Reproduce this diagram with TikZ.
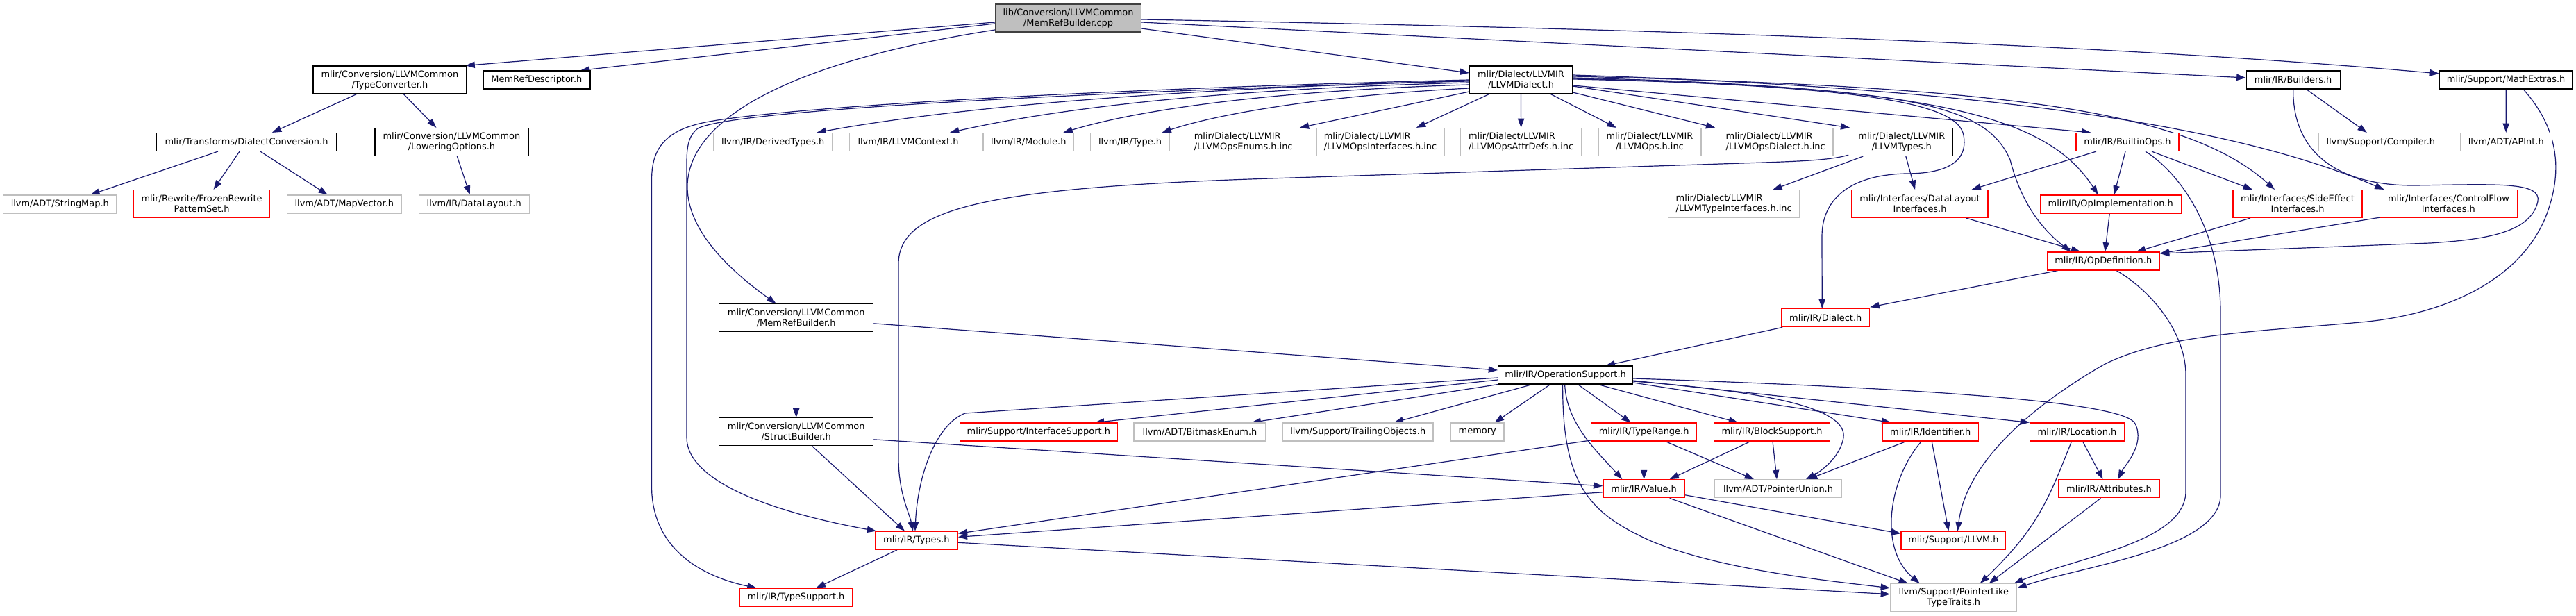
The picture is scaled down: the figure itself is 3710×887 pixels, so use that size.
\documentclass[tikz,border=0pt]{standalone}
\usepackage{fontspec}
\setmainfont{DejaVu Sans}
\usetikzlibrary{arrows.meta}
\usetikzlibrary{calc}
\usetikzlibrary{backgrounds}
\definecolor{edgeblue}{HTML}{191970}
\definecolor{docgray}{HTML}{404040}
\definecolor{extgray}{HTML}{BFBFBF}
\tikzset{>=latex}
\tikzstyle{box} = [draw, rectangle, line width=0.9pt, fill=white, inner sep=1pt,
                   font=\fontsize{9.7}{11.25}\selectfont, text=black]
\tikzstyle{doc}   = [box, draw=black]
\tikzstyle{ext}   = [box, draw=extgray]
\tikzstyle{trunc} = [box, draw=red]
\tikzstyle{root}  = [box, draw=docgray, fill=extgray]
\tikzstyle{oneline} = [minimum height=19.5pt]
\tikzstyle{twoline} = [minimum height=30pt, align=center]
\tikzset{bw/.style={minimum width=#1*0.75pt}}
\tikzstyle{dep} = [line width=0.9pt, draw=edgeblue,
                   -{Triangle[length=10pt,width=7pt]}]

\begin{document}
\begin{tikzpicture}[x=0.75pt, y=-0.75pt]
    % picture frame in pixel units (y runs down)
    \useasboundingbox (0,0) rectangle (3710,887);

    % the file itself
    \node[root, twoline, bw=210] (cpp) at (1538.5,26) {lib/Conversion/LLVMCommon\\/MemRefBuilder.cpp};

    % first level
    \node[doc, twoline, bw=221] (typeconv)    at (561.4,115)  {mlir/Conversion/LLVMCommon\\/TypeConverter.h};
    \node[doc, oneline, bw=154] (memrefdesc)  at (772.9,115)  {MemRefDescriptor.h};
    \node[doc, twoline, bw=148] (llvmdialect) at (2190.5,115) {mlir/Dialect/LLVMIR\\/LLVMDialect.h};
    \node[doc, oneline, bw=135] (builders)    at (3302.6,115) {mlir/IR/Builders.h};
    \node[doc, oneline, bw=191] (mathextras)  at (3609.1,115) {mlir/Support/MathExtras.h};

    % second level
    \node[doc, oneline, bw=259]   (dialectconv)   at (355,204.5)    {mlir/Transforms/DialectConversion.h};
    \node[doc, twoline, bw=221]   (loweringopts)  at (650.4,204.5)  {mlir/Conversion/LLVMCommon\\/LoweringOptions.h};
    \node[ext, oneline, bw=171]   (derivedtypes)  at (1113.2,204.5) {llvm/IR/DerivedTypes.h};
    \node[ext, oneline, bw=168.5] (llvmcontext)   at (1308,204.5)   {llvm/IR/LLVMContext.h};
    \node[ext, oneline, bw=130.5] (module)        at (1481.3,204.5) {llvm/IR/Module.h};
    \node[ext, oneline, bw=114.5] (irtype)        at (1627.5,204.5) {llvm/IR/Type.h};
    \node[ext, twoline, bw=163, align=left]   (opsenums)      at (1790.7,204.5) {mlir/Dialect/LLVMIR\\/LLVMOpsEnums.h.inc};
    \node[ext, twoline, bw=184, align=left]   (opsinterfaces) at (1988,204.5)   {mlir/Dialect/LLVMIR\\/LLVMOpsInterfaces.h.inc};
    \node[ext, twoline, bw=174, align=left]   (opsattrdefs)   at (2190.6,204.5) {mlir/Dialect/LLVMIR\\/LLVMOpsAttrDefs.h.inc};
    \node[ext, twoline, bw=148]               (opsinc)        at (2375.9,204.5) {mlir/Dialect/LLVMIR\\/LLVMOps.h.inc};
    \node[ext, twoline, bw=165.5, align=left] (opsdialect)    at (2557.2,204.5) {mlir/Dialect/LLVMIR\\/LLVMOpsDialect.h.inc};
    \node[doc, twoline, bw=148]   (llvmtypes)     at (2738.8,204.5) {mlir/Dialect/LLVMIR\\/LLVMTypes.h};
    \node[trunc, oneline, bw=148] (builtinops)    at (3064,204.5)   {mlir/IR/BuiltinOps.h};
    \node[ext, oneline, bw=178.5] (compiler)      at (3428.8,204.5) {llvm/Support/Compiler.h};
    \node[ext, oneline, bw=132]   (apint)         at (3609.2,204.5) {llvm/ADT/APInt.h};

    % third level
    \node[ext, oneline, bw=163]     (stringmap)      at (86.3,294)    {llvm/ADT/StringMap.h};
    \node[trunc, twoline, bw=196]   (frozen)         at (290.6,293.5) {mlir/Rewrite/FrozenRewrite\\PatternSet.h};
    \node[ext, oneline, bw=165]     (mapvector)      at (495.8,294)   {llvm/ADT/MapVector.h};
    \node[ext, oneline, bw=159]     (datalayout)     at (682.7,294)   {llvm/IR/DataLayout.h};
    \node[ext, twoline, bw=189, align=left] (typeinterfaces) at (2497.2,293.7) {mlir/Dialect/LLVMIR\\/LLVMTypeInterfaces.h.inc};
    \node[trunc, twoline, bw=196]   (dlinterfaces)   at (2765,293.5)  {mlir/Interfaces/DataLayout\\Interfaces.h};
    \node[trunc, oneline, bw=203]   (opimpl)         at (3039.7,294)  {mlir/IR/OpImplementation.h};
    \node[trunc, twoline, bw=186]   (sideeffect)     at (3309,293.5)  {mlir/Interfaces/SideEffect\\Interfaces.h};
    \node[trunc, twoline, bw=198.5] (controlflow)    at (3526.4,293.5) {mlir/Interfaces/ControlFlow\\Interfaces.h};

    \node[trunc, oneline, bw=162] (opdefinition) at (3029.2,376) {mlir/IR/OpDefinition.h};

    \node[doc, twoline, bw=222]   (memrefbuilder) at (1146.7,457.8) {mlir/Conversion/LLVMCommon\\/MemRefBuilder.h};
    \node[trunc, oneline, bw=127] (dialect)       at (2629.2,457.8) {mlir/IR/Dialect.h};

    \node[doc, oneline, bw=194] (opsupport) at (2254.6,540) {mlir/IR/OperationSupport.h};

    \node[doc, twoline, bw=222]     (structbuilder) at (1146.7,621.8) {mlir/Conversion/LLVMCommon\\/StructBuilder.h};
    \node[trunc, oneline, bw=227]   (ifacesupport)  at (1495.8,622)   {mlir/Support/InterfaceSupport.h};
    \node[ext, oneline, bw=190]     (bitmask)       at (1728,622)     {llvm/ADT/BitmaskEnum.h};
    \node[ext, oneline, bw=216.5]   (trailing)      at (1955.7,622)   {llvm/Support/TrailingObjects.h};
    \node[ext, oneline, bw=76.6]    (memory)        at (2127.7,622)   {memory};
    \node[trunc, oneline, bw=152]   (typerange)     at (2367.6,622)   {mlir/IR/TypeRange.h};
    \node[trunc, oneline, bw=167]   (blocksupport)  at (2552,622)     {mlir/IR/BlockSupport.h};
    \node[trunc, oneline, bw=138.4] (identifier)    at (2780.2,622)   {mlir/IR/Identifier.h};
    \node[trunc, oneline, bw=136]   (location)      at (2991.5,622)   {mlir/IR/Location.h};

    \node[trunc, oneline, bw=117.4] (value)        at (2367.6,703.8) {mlir/IR/Value.h};
    \node[ext, oneline, bw=183]     (pointerunion) at (2561,703.8)   {llvm/ADT/PointerUnion.h};
    \node[trunc, oneline, bw=145.6] (attributes)   at (3037.5,703.8) {mlir/IR/Attributes.h};

    \node[trunc, oneline, bw=118.6] (types)       at (1319.9,778.3) {mlir/IR/Types.h};
    \node[trunc, oneline, bw=150.7] (supportllvm) at (2813.4,778.3) {mlir/Support/LLVM.h};

    \node[trunc, oneline, bw=162]   (typesupport) at (1146.5,860.3) {mlir/IR/TypeSupport.h};
    \node[ext, twoline, bw=182.3]   (pointerlike) at (2813.7,860.7) {llvm/Support/PointerLike\\TypeTraits.h};

    \begin{scope}[on background layer]
    % includes of the .cpp
    \draw[dep] ($(cpp.west)+(0,6)$) -- ($(typeconv.north east)+(-2,0)$);
    \draw[dep] ($(cpp.west)+(0,8)$) -- ($(memrefdesc.north)+(63,0)$);
    \draw[dep] ($(cpp.west)+(0,17)$) .. controls (1000,110) and (870,260) .. ($(memrefbuilder.north)+(-29,0)$);
    \draw[dep] ($(cpp.east)+(0,15)$) -- ($(llvmdialect.west)+(0,-10)$);
    \draw[dep] ($(cpp.east)+(0,6)$) -- ($(builders.west)+(0,-3)$);
    \draw[dep] ($(cpp.east)+(0,2)$) .. controls (2300,40) and (3000,60) .. ($(mathextras.west)+(0,-9)$);

    % TypeConverter branch
    \draw[dep] ($(typeconv.south)+(-48,0)$) -- ($(dialectconv.north)+(37,0)$);
    \draw[dep] ($(typeconv.south)+(20,0)$) -- ($(loweringopts.north)+(-22,0)$);
    \draw[dep] ($(dialectconv.south)+(-41,0)$) -- ($(stringmap.north)+(44,0)$);
    \draw[dep] ($(dialectconv.south)+(-10,0)$) -- ($(frozen.north)+(17,0)$);
    \draw[dep] ($(dialectconv.south)+(20,0)$) -- ($(mapvector.north)+(-24,0)$);
    \draw[dep] ($(loweringopts.south)+(8,0)$) -- ($(datalayout.north)+(-6,0)$);

    % LLVMDialect fan
    \draw[dep] ($(llvmdialect.west)+(0,17)$) -- ($(opsenums.north east)+(-1,0)$);
    \draw[dep] ($(llvmdialect.south)+(-46,0)$) -- ($(opsinterfaces.north)+(52,0)$);
    \draw[dep] (llvmdialect.south) -- (opsattrdefs.north);
    \draw[dep] ($(llvmdialect.south)+(43,0)$) -- ($(opsinc.north)+(-48,0)$);
    \draw[dep] ($(llvmdialect.east)+(0,18)$) -- ($(opsdialect.north)+(-87,0)$);
    \draw[dep] ($(llvmdialect.east)+(0,9)$) -- (llvmtypes.north west);
    \draw[dep] ($(llvmdialect.west)+(0,2)$) .. controls (1750,125) and (1400,150) .. ($(derivedtypes.north)+(63,0)$);
    \draw[dep] ($(llvmdialect.west)+(0,4)$) .. controls (1800,127) and (1550,150) .. ($(llvmcontext.north)+(60,0)$);
    \draw[dep] ($(llvmdialect.west)+(0,7)$) .. controls (1850,130) and (1650,155) .. ($(module.north)+(50,0)$);
    \draw[dep] ($(llvmdialect.west)+(0,12)$) .. controls (1900,138) and (1750,165) .. ($(irtype.north)+(46,0)$);
    \draw[dep] ($(llvmdialect.west)+(0,1)$) .. controls (1500,135) and (1050,160) .. (1005,185)
        .. controls (992,195) and (989,210) .. (989,235) -- (989,630)
        .. controls (989,690) and (1100,735) .. ($(types.north west)+(2,0)$);
    \draw[dep] (llvmdialect.west) .. controls (1500,130) and (1060,160) .. (1000,180)
        .. controls (945,195) and (938.5,230) .. (938.5,260) -- (938.5,700)
        .. controls (938.5,790) and (1010,830) .. ($(typesupport.north)+(-57,0)$);
    \draw[dep] ($(llvmdialect.east)+(0,8)$) -- ($(builtinops.north west)+(22,0)$);
    \draw[dep] ($(llvmdialect.east)+(0,-3)$) .. controls (2800,125) and (2950,170) .. ($(opimpl.north)+(-18,0)$);
    \draw[dep] ($(llvmdialect.east)+(0,-5)$) .. controls (2900,125) and (3150,160) .. ($(sideeffect.north)+(-33,0)$);
    \draw[dep] ($(llvmdialect.east)+(0,-7)$) .. controls (2950,130) and (3250,195) .. ($(controlflow.north west)+(7,0)$);
    \draw[dep] ($(llvmdialect.east)+(0,-1)$) .. controls (2750,125) and (2860,150) .. (2895,230)
        .. controls (2910,290) and (2940,330) .. ($(opdefinition.north west)+(35,0)$);
    \draw[dep] ($(llvmdialect.east)+(0,-2)$) .. controls (2700,125) and (2820,150) .. (2828,195)
        .. controls (2835,235) and (2800,250) .. (2745,250)
        .. controls (2660,252) and (2624,290) .. (2624,340) -- ($(dialect.north)+(-5,0)$);

    % LLVMTypes
    \draw[dep] ($(llvmtypes.south west)+(19,0)$) -- ($(typeinterfaces.north)+(56,0)$);
    \draw[dep] ($(llvmtypes.south)+(6,0)$) -- ($(dlinterfaces.north)+(-7,0)$);
    \draw[dep] ($(llvmtypes.south west)+(-2,-2)$) .. controls (2640,230) and (2600,232) .. (2540,234) -- (1830,257)
        .. controls (1420,270) and (1294,300) .. (1294,380) -- (1294,660)
        .. controls (1294,710) and (1310,740) .. ($(types.north)+(-5,0)$);

    % BuiltinOps, Builders, MathExtras
    \draw[dep] ($(builtinops.south)+(-45,0)$) -- ($(dlinterfaces.north east)+(-24,0)$);
    \draw[dep] ($(builtinops.south)+(-3,0)$) -- ($(opimpl.north)+(5,0)$);
    \draw[dep] ($(builtinops.south)+(35,0)$) -- ($(sideeffect.north)+(-65,0)$);
    \draw[dep] ($(builtinops.south)+(26,0)$) .. controls (3140,250) and (3198,330) .. (3198,450) -- (3198,713)
        .. controls (3198,790) and (3000,815) .. ($(pointerlike.east)+(0,-14)$);
    \draw[dep] ($(builders.south)+(19,0)$) -- ($(compiler.north)+(-20,0)$);
    \draw[dep] (builders.south) .. controls (3302,230) and (3380,268) .. (3480,267)
        .. controls (3600,265) and (3660,262) .. (3655,290)
        .. controls (3645,335) and (3580,345) .. (3500,350) -- ($(opdefinition.east)+(0,-11)$);
    \draw[dep] (mathextras.south) -- (apint.north);
    \draw[dep] ($(mathextras.south)+(25,0)$) .. controls (3680,180) and (3695,240) .. (3666,313)
        .. controls (3630,400) and (3530,450) .. (3410,463)
        .. controls (3250,478) and (3120,480) .. (3030,525)
        .. controls (2900,600) and (2830,680) .. ($(supportllvm.north)+(6,0)$);

    % into OpDefinition
    \draw[dep] ($(opimpl.south)+(-1.5,0)$) -- ($(opdefinition.north)+(2.5,0)$);
    \draw[dep] ($(dlinterfaces.south)+(67,0)$) -- ($(opdefinition.north)+(-33,0)$);
    \draw[dep] ($(sideeffect.south)+(-68,0)$) -- ($(opdefinition.north)+(47.5,0)$);
    \draw[dep] ($(controlflow.south west)+(1,-1)$) -- ($(opdefinition.east)+(0,-11)$);
    \draw[dep] ($(opdefinition.south west)+(16,0)$) -- ($(dialect.north east)+(0,-2)$);
    \draw[dep] ($(opdefinition.south)+(19,0)$) .. controls (3100,420) and (3148,480) .. (3148,540) -- (3148,707)
        .. controls (3148,780) and (3000,800) .. ($(pointerlike.north east)+(-5,0)$);

    % down to OperationSupport
    \draw[dep] ($(dialect.south west)+(2,0)$) -- ($(opsupport.north)+(58,0)$);
    \draw[dep] ($(memrefbuilder.east)+(0,8)$) -- ($(opsupport.west)+(0,-7)$);
    \draw[dep] (memrefbuilder.south) -- (structbuilder.north);
    \draw[dep] ($(structbuilder.south)+(23,0)$) -- ($(types.north)+(-17,0)$);
    \draw[dep] ($(structbuilder.east)+(0,11)$) -- ($(value.west)+(0,-4)$);

    % OperationSupport fan
    \draw[dep] ($(opsupport.west)+(0,4)$) -- (1390,595) .. controls (1350,610) and (1322,680) .. ($(types.north)+(-2,0)$);
    \draw[dep] ($(opsupport.west)+(0,7)$) -- ($(ifacesupport.north east)+(-33,0)$);
    \draw[dep] (opsupport.south west) -- ($(bitmask.north east)+(-21,0)$);
    \draw[dep] ($(opsupport.south)+(-48,0)$) -- ($(trailing.north)+(52,0)$);
    \draw[dep] ($(opsupport.south)+(-22,0)$) -- ($(memory.north)+(25,0)$);
    \draw[dep] ($(opsupport.south)+(18,0)$) -- ($(typerange.north)+(-19,0)$);
    \draw[dep] ($(opsupport.south)+(47,0)$) -- ($(blocksupport.north)+(-49,0)$);
    \draw[dep] ($(opsupport.east)+(0,11)$) -- ($(identifier.north west)+(13,0)$);
    \draw[dep] ($(opsupport.east)+(0,8)$) -- (location.north west);
    \draw[dep] ($(opsupport.east)+(0,5)$) .. controls (2800,560) and (3060,580) .. (3075,610)
        .. controls (3090,640) and (3060,670) .. ($(attributes.north)+(13,0)$);
    \draw[dep] ($(opsupport.east)+(0,9)$) .. controls (2560,565) and (2660,590) .. (2655,630)
        .. controls (2650,660) and (2620,680) .. ($(pointerunion.north)+(40,0)$);
    \draw[dep] ($(opsupport.south)+(-1,0)$) .. controls (2256,610) and (2300,650) .. ($(value.north west)+(28,0)$);
    \draw[dep] ($(opsupport.south)+(-4,0)$) .. controls (2250,700) and (2290,740) .. (2380,780)
        .. controls (2480,820) and (2620,835) .. ($(pointerlike.west)+(0,-14)$);

    % lower levels
    \draw[dep] ($(typerange.west)+(0,12)$) -- ($(types.east)+(0,-10)$);
    \draw[dep] (typerange.south) -- (value.north);
    \draw[dep] ($(typerange.south)+(31,0)$) -- ($(pointerunion.north)+(-35,0)$);
    \draw[dep] ($(blocksupport.south)+(-31,0)$) -- ($(value.north)+(37,0)$);
    \draw[dep] ($(blocksupport.south)+(1,0)$) -- ($(pointerunion.north)+(-2,0)$);
    \draw[dep] ($(identifier.south)+(-35,0)$) -- ($(pointerunion.north)+(43,0)$);
    \draw[dep] ($(identifier.south)+(2,0)$) -- ($(supportllvm.north)+(-7,0)$);
    \draw[dep] ($(identifier.south)+(-13,0)$) .. controls (2720,690) and (2705,790) .. ($(pointerlike.north)+(-49,0)$);
    \draw[dep] ($(location.south)+(8,0)$) -- ($(attributes.north)+(-9,0)$);
    \draw[dep] ($(location.south)+(-8,0)$) .. controls (2950,720) and (2935,760) .. ($(pointerlike.north)+(38,0)$);
    \draw[dep] ($(attributes.south)+(-12,0)$) -- ($(pointerlike.north)+(51,0)$);
    \draw[dep] ($(value.west)+(0,5)$) -- ($(types.east)+(0,-5)$);
    \draw[dep] ($(value.south)+(37,0)$) -- ($(pointerlike.north west)+(26,0)$);
    \draw[dep] ($(value.east)+(0,9)$) -- ($(supportllvm.west)+(0,-10)$);
    \draw[dep] ($(types.south)+(-28,0)$) -- ($(typesupport.north)+(29,0)$);
    \draw[dep] ($(types.east)+(0,3)$) -- ($(pointerlike.west)+(0,-5)$);
    \end{scope}
\end{tikzpicture}
\end{document}
